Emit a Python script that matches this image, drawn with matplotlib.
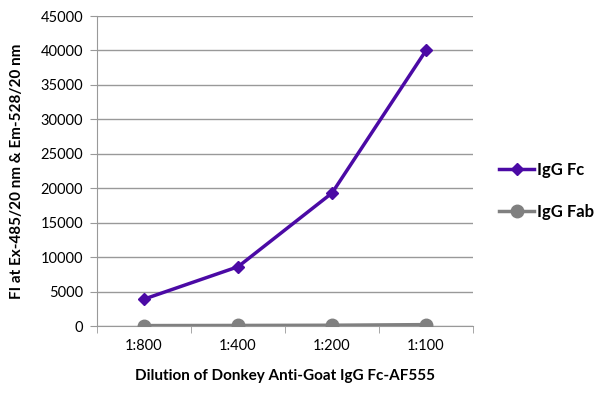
import matplotlib
matplotlib.use("Agg")
import matplotlib.pyplot as plt
import numpy as np

plt.rcParams['font.family'] = ['Lato', 'DejaVu Sans']

categories = ["1:800", "1:400", "1:200", "1:100"]
igg_fc = [3900, 8600, 19300, 40000]
igg_fab = [60, 80, 110, 200]
yticks = list(range(0, 45001, 5000))

fig = plt.figure(figsize=(6.0, 3.99), dpi=100)
ax = fig.add_axes([97/600, 1-326/399, (473-97)/600, (326-16)/399])

x = np.arange(len(categories))
ax.plot(x, igg_fab, color='#808080', lw=2.5, marker='o', ms=9, label='IgG Fab', zorder=3)
ax.plot(x, igg_fc, color='#4B0AA5', lw=2.5, marker='D', ms=6, label='IgG Fc', zorder=4)

ax.set_xlim(-0.5, 3.5)
ax.set_ylim(0, 45000)
ax.set_yticks(yticks)
ax.set_yticklabels([str(v) for v in yticks], fontsize=10.5)
ax.set_xticks(x)
ax.set_xticklabels(categories, fontsize=10.5)
ax.set_xticks(np.arange(-0.5, 4.0, 1.0), minor=True)
ax.tick_params(axis='x', which='major', length=0, pad=9)
ax.tick_params(axis='x', which='minor', length=5, color='#999999', direction='out')
ax.tick_params(axis='y', length=5, color='#999999', direction='out', pad=5)
ax.yaxis.grid(True, color='#999999', lw=1)
ax.set_axisbelow(True)
for s in ['top', 'right']:
    ax.spines[s].set_visible(False)
ax.spines['left'].set_color('#999999')
ax.spines['bottom'].set_color('#999999')

ax.set_xlabel("Dilution of Donkey Anti-Goat IgG Fc-AF555", fontsize=11, fontweight='bold', labelpad=12)
ax.set_ylabel("FI at Ex-485/20 nm & Em-528/20 nm", fontsize=11, fontweight='bold', labelpad=12)

h, l = ax.get_legend_handles_labels()
fig.legend(h[::-1], l[::-1], loc='center left', bbox_to_anchor=(484/600, 1-191/399),
           frameon=False, prop={'weight': 'bold', 'size': 12},
           handlelength=2.1, handletextpad=0.2, labelspacing=1.55)

fig.savefig("out.png", dpi=100)
